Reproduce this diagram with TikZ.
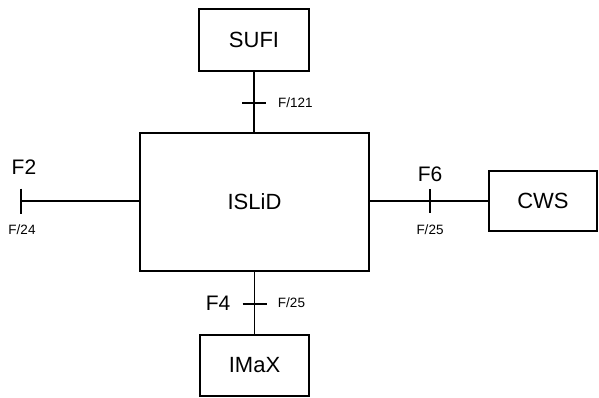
\documentclass[tikz,border=0pt]{standalone}
\usepackage{fontspec}
\setmainfont{Liberation Sans}
\usetikzlibrary{calc}
\tikzset{
  blk/.style={draw, line width=1.6pt, inner sep=0pt},
  link/.style={line width=1.6pt},
  big/.style={font=\fontsize{22}{24}\selectfont},
  mid/.style={font=\fontsize{21}{23}\selectfont},
  tiny/.style={font=\fontsize{13.5}{15}\selectfont}
}
\begin{document}
\begin{tikzpicture}[x=1pt, y=-1pt]
  \useasboundingbox (0,0) rectangle (599,397);

  % Draw boxes
  \node[blk, big, minimum width=229pt, minimum height=138pt] (islid) at (254.5,202) {ISLiD};
  \node[blk, big, minimum width=110pt, minimum height=62pt] (sufi) at (254,40) {SUFI};
  \node[blk, big, minimum width=109pt, minimum height=61pt] (imax) at (254.5,365.5) {IMaX};
  \node[blk, big, minimum width=108pt, minimum height=60pt] (cws) at (543,201) {CWS};

  % Free end of F2
  \coordinate (f2) at (21,201);

  % Draw links
  \draw[link] (sufi.south) -- (sufi.south |- islid.north);
  \draw[link] (imax.north) -- (imax.north |- islid.south);
  \draw[link] (f2) -- (f2 -| islid.west);
  \draw[link] (cws.west) -- (cws.west -| islid.east);

  % Tick marks
  \coordinate (t121) at (254,103);
  \coordinate (t4) at (254.5,304);
  \coordinate (t6) at (430,201);
  \draw[link] ($(t121)+(-12,0)$) -- ($(t121)+(12,0)$);
  \draw[link] ($(t4)+(-12,0)$) -- ($(t4)+(12,0)$);
  \draw[link] ($(t6)+(0,-12)$) -- ($(t6)+(0,12)$);
  \draw[link] ($(f2)+(0,-12.5)$) -- ($(f2)+(0,12.5)$);

  % Labels
  \node[tiny, anchor=west, inner sep=0pt] (l121) at (278,103) {F/121};
  \node[mid] (lf2) at (24,167) {F2};
  \node[tiny] (l24) at (22,230) {F/24};
  \node[mid] (lf6) at (430,174) {F6};
  \node[tiny] (l25a) at (430,230) {F/25};
  \node[mid] (lf4) at (218,303) {F4};
  \node[tiny] (l25b) at (291.5,303) {F/25};
\end{tikzpicture}
\end{document}
